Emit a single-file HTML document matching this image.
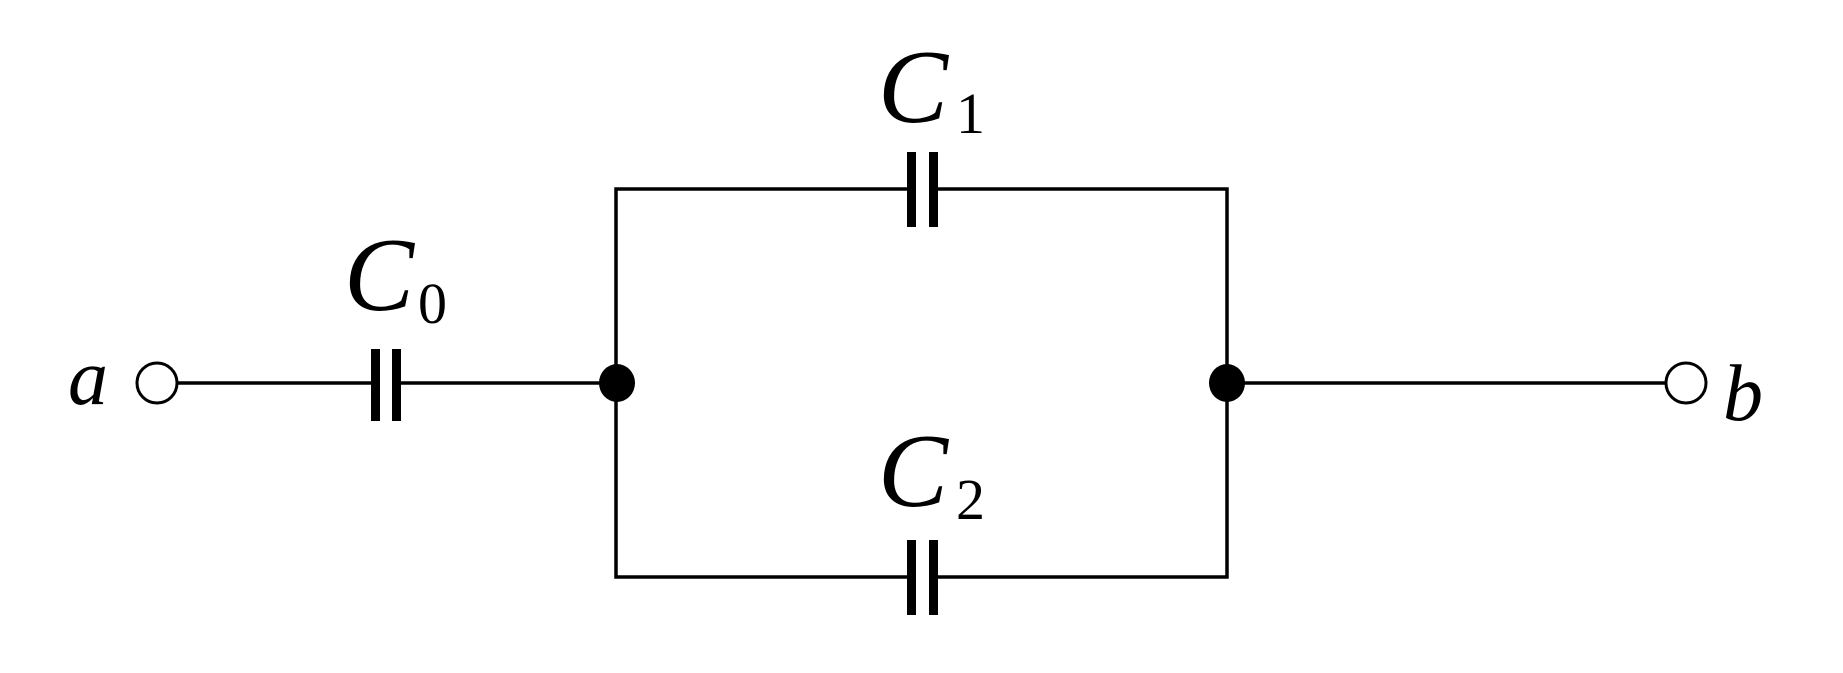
<!DOCTYPE html>
<html><head><style>
html,body{margin:0;padding:0;background:#fff;width:1843px;height:673px;overflow:hidden}
svg text{font-family:"Liberation Serif",serif;font-style:italic;fill:#000}
</style></head><body>
<svg width="1843" height="673" viewBox="0 0 1843 673" xmlns="http://www.w3.org/2000/svg">
<g stroke="#000" stroke-width="3.5" fill="none">
<line x1="177" y1="383" x2="375" y2="383"/>
<line x1="397" y1="383" x2="616" y2="383"/>
<line x1="1227" y1="383" x2="1666" y2="383"/>
<polyline points="911,189 616,189 616,577 911,577"/>
<polyline points="934,189 1227,189 1227,577 934,577"/>
</g>
<g fill="#000">
<rect x="371" y="349" width="9" height="72"/>
<rect x="392" y="349" width="9" height="72"/>
<rect x="907" y="152" width="9" height="75"/>
<rect x="929" y="152" width="9" height="75"/>
<rect x="907" y="540" width="9" height="75"/>
<rect x="929" y="540" width="9" height="75"/>
<ellipse cx="617" cy="383" rx="18" ry="19"/>
<ellipse cx="1227" cy="383" rx="18" ry="19"/>
</g>
<circle cx="157" cy="383" r="20" fill="#fff" stroke="#000" stroke-width="3"/>
<circle cx="1686" cy="383" r="20" fill="#fff" stroke="#000" stroke-width="3"/>
<text x="878" y="122" font-size="105">C</text>
<text x="956" y="133" font-size="58" font-style="normal" style="font-style:normal">1</text>
<text x="344" y="310" font-size="105">C</text>
<text x="418" y="323" font-size="58" style="font-style:normal">0</text>
<text x="878" y="506" font-size="105">C</text>
<text x="956" y="519" font-size="58" style="font-style:normal">2</text>
<text x="68" y="404" font-size="80">a</text>
<text x="1723" y="420" font-size="80">b</text>
</svg>
</body></html>
